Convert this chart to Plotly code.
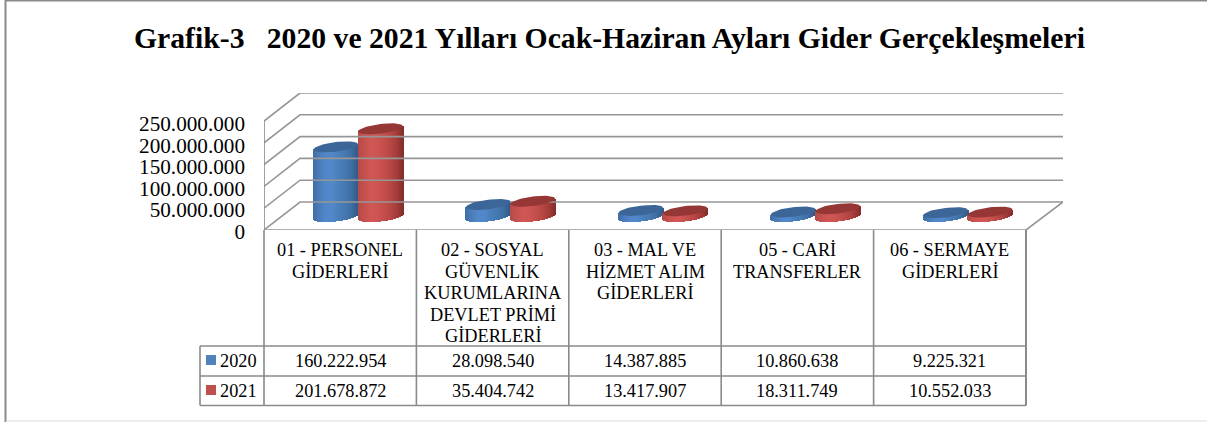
import numpy as np
import plotly.graph_objects as go

W, H = 1207, 422

TITLE = "Grafik-3\u00a0\u00a0\u00a02020 ve 2021 Yılları Ocak-Haziran Ayları Gider Gerçekleşmeleri"
categories = [
    ["01 - PERSONEL", "GİDERLERİ"],
    ["02 - SOSYAL", "GÜVENLİK", "KURUMLARINA", "DEVLET PRİMİ", "GİDERLERİ"],
    ["03 - MAL VE", "HİZMET ALIM", "GİDERLERİ"],
    ["05 - CARİ", "TRANSFERLER"],
    ["06 - SERMAYE", "GİDERLERİ"],
]
series_names = ["2020", "2021"]
values_2020 = [160222954, 28098540, 14387885, 10860638, 9225321]
values_2021 = [201678872, 35404742, 13417907, 18311749, 10552033]
y_ticks = [0, 50000000, 100000000, 150000000, 200000000, 250000000]

LINE = "#8a8a8a"
FONT = "Liberation Serif"
BLUE, RED = "#4F81BD", "#C0504D"
BLUE_RAMP = ["#3f6da6", "#4a7cb8", "#5187cb", "#5088c9", "#4a7fbb", "#4679b2", "#3f6e9f", "#325b8c"]
RED_RAMP = ["#b34a47", "#c4514e", "#cf5654", "#cd5552", "#c34f4c", "#b84744", "#a53e3b", "#852f2d"]
BLUE_CAP, RED_CAP = "#3b6697", "#953735"

# Pixel geometry of the frame
FX0, FX1, BX1 = 264, 1026, 1063
FY0, TOPY = 230, 93
CAT_PX = (FX1 - FX0) / 5
VAL_PX = 50e6 / 21.8          # value per pixel
DX, DY = 36 / CAT_PX, 28 * VAL_PX   # depth offset of the back wall


def px(x):
    return x / W


def py(y):
    return 1 - y / H


def hex_rgb(c):
    return np.array([int(c[i:i + 2], 16) for i in (1, 3, 5)], float)


def shade(ramp, t):
    p = t * (len(ramp) - 1)
    i = min(int(p), len(ramp) - 2)
    c = hex_rgb(ramp[i]) * (1 - (p - i)) + hex_rgb(ramp[i + 1]) * (p - i)
    return "rgb(%d,%d,%d)" % tuple(c.round())


fig = go.Figure()

# Wall and floor lines, through the axes
x_back = -0.5 + (BX1 - FX0) / CAT_PX
for v in y_ticks:
    fig.add_trace(go.Scatter(x=[-0.5, -0.5 + DX, x_back], y=[v, v + DY, v + DY], mode="lines",
                             line=dict(color="#969696", width=1.6), cliponaxis=False,
                             hoverinfo="skip", showlegend=False))
fig.add_trace(go.Scatter(x=[-0.5, -0.5], y=[y_ticks[0], y_ticks[-1]], mode="lines",
                         line=dict(color=LINE, width=1.6), cliponaxis=False,
                         hoverinfo="skip", showlegend=False))
fig.add_trace(go.Scatter(x=[-0.5, 4.5, x_back], y=[0, 0, DY], mode="lines",
                         line=dict(color="#969696", width=1.6), cliponaxis=False,
                         hoverinfo="skip", showlegend=False))
# Carrier of the tick-label axis
fig.add_trace(go.Scatter(x=[-0.5] * len(y_ticks), y=y_ticks, yaxis="y2", mode="markers",
                         marker=dict(opacity=0, size=1), hoverinfo="skip", showlegend=False))

# Cylinders: a run of narrow bars plus an elliptic cap
A = 22.3        # half width, px
B = 4.8         # half height, px
K = 2.6 / A     # tilt
BASE = 13.3 * VAL_PX
CENTRE = 18 / CAT_PX
caps = []
for s, (vals, ramp, cap) in enumerate([(values_2020, BLUE_RAMP, BLUE_CAP), (values_2021, RED_RAMP, RED_CAP)]):
    off = (s * 2 - 1) * A
    for c, val in enumerate(vals):
        u = np.arange(-A + 0.5, A + 0.5, 1.0)
        ux = c + CENTRE + (off + u) / CAT_PX
        low = (K * u - B * np.sqrt(np.clip(1 - (u / A) ** 2, 0, 1))) * VAL_PX + BASE
        top = K * u * VAL_PX + BASE + val
        colors = [shade(ramp, (t + A) / (2 * A)) for t in u]
        fig.add_trace(go.Bar(x=ux, y=top - low, base=low, width=1.25 / CAT_PX,
                             marker=dict(color=colors, line=dict(width=0)),
                             hoverinfo="skip", showlegend=False))
        t = np.linspace(0, 2 * np.pi, 61)
        ex = A * np.cos(t)
        ey = B * np.sin(t) + K * ex
        caps.append(go.Scatter(x=c + CENTRE + (off + ex) / CAT_PX, y=BASE + val + ey * VAL_PX,
                               mode="lines", fill="toself", fillcolor=cap, line=dict(width=0, color=cap),
                               hoverinfo="skip", showlegend=False))
fig.add_traces(caps)

# Data table
TY0, TY1, TY2, TY3 = FY0, 346, 376, 405.5
col_x = [FX0 + CAT_PX * i for i in range(6)]
LEG_X = 200
shapes = []


def seg(x0, y0, x1, y1, width=1.6, color=LINE):
    shapes.append(dict(type="line", xref="paper", yref="paper", x0=px(x0), x1=px(x1), y0=py(y0), y1=py(y1),
                       line=dict(color=color, width=width), layer="above"))


for i, x in enumerate(col_x):
    seg(x, TY0, x, TY3, 2 if i == 5 else 1.6)
seg(LEG_X, TY1, LEG_X, TY3)
for y in (TY1, TY2, TY3):
    seg(LEG_X, y, FX1, y)
# Outer frame
seg(5.5, 0, 5.5, H, 2)
seg(5.5, 0.7, W, 0.7, 1.6)
seg(6, 421, W, 421, 1.2, "#dcdcdc")
# Legend keys
for y, col in ((360, BLUE), (390, RED)):
    shapes.append(dict(type="rect", xref="paper", yref="paper", x0=px(206), x1=px(216),
                       y0=py(y - 5), y1=py(y + 5), line=dict(width=0), fillcolor=col))

notes = []


def text(x, y, s, size=18.3, anchor="center", bold=False):
    notes.append(dict(x=px(x), y=py(y), xref="paper", yref="paper", text="<b>%s</b>" % s if bold else s,
                      xanchor=anchor, yanchor="middle", showarrow=False,
                      font=dict(family=FONT, size=size, color="#000000")))


text(609, 38, TITLE, size=29.7, bold=True)
for i, lines in enumerate(categories):
    cx = (col_x[i] + col_x[i + 1]) / 2
    for j, line in enumerate(lines):
        text(cx, 250 + 21.5 * j, line)
    text(cx, 361, f"{values_2020[i]:,}".replace(",", "."))
    text(cx, 390.5, f"{values_2021[i]:,}".replace(",", "."))
text(218, 360.5, series_names[0], anchor="left")
text(218, 390.5, series_names[1], anchor="left")

y_range = [0, (FY0 - TOPY) * VAL_PX]
fig.update_layout(
    template="none",
    width=W, height=H, autosize=False,
    margin=dict(l=0, r=0, t=0, b=0, pad=0, autoexpand=False),
    paper_bgcolor="white", plot_bgcolor="rgba(0,0,0,0)",
    barmode="overlay", separators=",.", bargap=0,
    shapes=shapes, annotations=notes, showlegend=False,
    xaxis=dict(domain=[px(FX0), px(BX1)], range=[-0.5, x_back], visible=False, fixedrange=True,
               automargin=False),
    yaxis=dict(domain=[py(FY0), py(TOPY)], range=y_range, showticklabels=False,
               showgrid=False, zeroline=False, showline=False, ticks="",
               fixedrange=True, automargin=False),
    yaxis2=dict(domain=[py(FY0 + 1.5), py(95.8)], range=y_range,
                anchor="x", side="left",
                tickmode="array", tickvals=y_ticks, tickformat=",d",
                tickfont=dict(family=FONT, size=21.2, color="#000000"),
                showgrid=False, zeroline=False, showline=False, ticks="",
                ticklabelstandoff=18, fixedrange=True, automargin=False),
)

fig.write_html("out.html", config={"displayModeBar": False},
               post_script="document.body.style.margin='0';document.body.style.overflow='hidden';")
